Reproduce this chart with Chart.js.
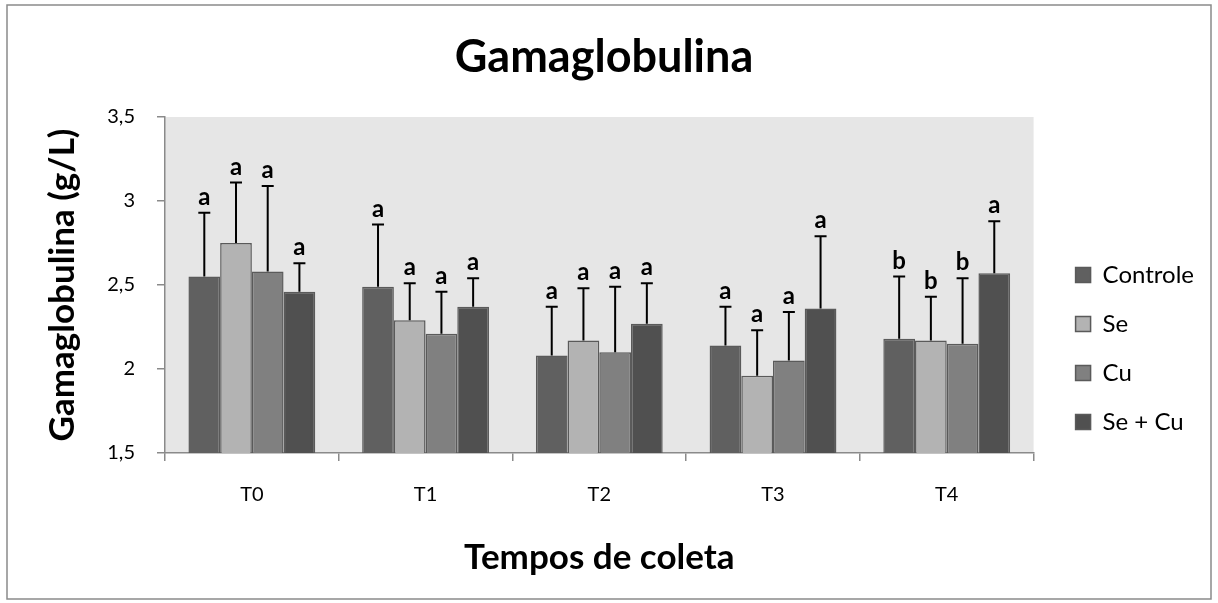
<!DOCTYPE html>
<html>
<head>
<meta charset="utf-8">
<script src="https://cdn.jsdelivr.net/npm/chart.js@4/dist/chart.umd.min.js"></script>
<style>
html,body{margin:0;padding:0;background:#fff;}
#wrap{width:1218px;height:603px;}
</style>
</head>
<body>
<div id="wrap"><canvas id="gamaChart" width="1218" height="603"></canvas></div>
<script>
const tempos = ['T0','T1','T2','T3','T4']
const yTicks = [1.5,2,2.5,3,3.5]

// means
const controle = [2.55,2.49,2.08,2.14,2.18]
const se = [2.75,2.29,2.17,1.96,2.17]
const cu = [2.58,2.21,2.10,2.05,2.15]
const seCu = [2.46,2.37,2.27,2.36,2.57]

// standard deviations (upper error bar only)
const controleSd = [0.38,0.37,0.29,0.23,0.37]
const seSd = [0.36,0.22,0.31,0.27,0.26]
const cuSd = [0.51,0.25,0.39,0.29,0.39]
const seCuSd = [0.17,0.17,0.24,0.43,0.31]

// letters from the statistical test
const controleLet = ['a','a','a','a','b']
const seLet = ['a','a','a','a','b']
const cuLet = ['a','a','a','a','b']
const seCuLet = ['a','a','a','a','a']

const FONT = 'Lato, "Open Sans", sans-serif'
const edge = '#5a5a5a'

// extra room between plot and legend, legend pushed down a bit
const LEGEND_EXTRA = 21
const LEGEND_SHIFT = 17
const LEGEND_DROP = 47

const frame = {
id:'frame',
beforeDraw(chart){
const {ctx,chartArea:a} = chart
ctx.save()
ctx.fillStyle = '#fff'
ctx.fillRect(0,0,chart.width,chart.height)
ctx.strokeStyle = '#8a8a8a'
ctx.lineWidth = 1.5
ctx.strokeRect(7,5,1204,594)
ctx.fillStyle = '#e6e6e6'
ctx.fillRect(a.left,a.top,a.right-a.left,a.bottom-a.top)
ctx.restore()
}
}

const legendGap = {
id:'legendGap',
beforeLayout(chart){
const lg = chart.legend
if(lg && !lg._gap){
const fit = lg.fit
lg.fit = function(){
fit.call(this)
this.width += LEGEND_EXTRA
}
lg._gap = true
}
},
afterLayout(chart){
const lg = chart.legend
lg.left += LEGEND_SHIFT
lg.top += LEGEND_DROP
lg.bottom += LEGEND_DROP
}
}

const errBars = {
id:'errBars',
afterDatasetsDraw(chart){
const {ctx} = chart
const y = chart.scales.y
ctx.save()
chart.data.datasets.forEach((ds,i)=>{
const meta = chart.getDatasetMeta(i)
meta.data.forEach((bar,j)=>{
const top = y.getPixelForValue(ds.data[j] + ds.sd[j])
ctx.strokeStyle = '#000'
ctx.lineWidth = 2
ctx.beginPath()
ctx.moveTo(bar.x,bar.y)
ctx.lineTo(bar.x,top)
ctx.moveTo(bar.x-6,top)
ctx.lineTo(bar.x+6,top)
ctx.stroke()
ctx.fillStyle = '#000'
ctx.font = 'bold 24px ' + FONT
ctx.textAlign = 'center'
ctx.textBaseline = 'alphabetic'
ctx.fillText(ds.letters[j],bar.x,top-8)
})
})
ctx.restore()
}
}

function serie(label,data,sd,letters,color){
return {
label:label,
data:data,
sd:sd,
letters:letters,
backgroundColor:color,
borderColor:edge,
borderWidth:1.5
}
}

new Chart(document.getElementById('gamaChart'),{
type:'bar',
data:{
labels:tempos,
datasets:[
serie('Controle',controle,controleSd,controleLet,'#606060'),
serie('Se',se,seSd,seLet,'#b3b3b3'),
serie('Cu',cu,cuSd,cuLet,'#808080'),
serie('Se + Cu',seCu,seCuSd,seCuLet,'#505050')
]
},
options:{
responsive:false,
animation:false,
layout:{padding:{left:0,right:10,top:0,bottom:0}},
datasets:{bar:{categoryPercentage:0.73,barPercentage:1}},
plugins:{
tooltip:{enabled:false},
title:{
display:true,
text:'Gamaglobulina',
color:'#000',
font:{family:FONT,size:45,weight:'bold'},
padding:{top:30,bottom:33}
},
legend:{
position:'right',
align:'center',
labels:{
color:'#000',
font:{family:FONT,size:24},
boxWidth:15,
boxHeight:15,
padding:25
}
}
},
scales:{
x:{
afterFit(s){s.height = 150},
grid:{display:true,drawOnChartArea:false,tickLength:8,color:'#8a8a8a',lineWidth:1.5},
border:{color:'#8a8a8a',width:1.5},
ticks:{color:'#000',font:{family:FONT,size:20},padding:22},
title:{
display:true,
text:'Tempos de coleta',
color:'#000',
font:{family:FONT,size:35,weight:'bold'},
padding:{top:0,bottom:24}
}
},
y:{
min:1.5,
max:3.5,
afterFit(s){s.width = 165},
afterBuildTicks(s){s.ticks = yTicks.map(v=>({value:v}))},
grid:{display:true,drawOnChartArea:false,tickLength:8,color:'#8a8a8a',lineWidth:1.5},
border:{color:'#8a8a8a',width:1.5},
ticks:{
color:'#000',
font:{family:FONT,size:20},
padding:22,
callback:v=>String(v).replace('.',',')
},
title:{
display:true,
text:'Gamaglobulina (g/L)',
color:'#000',
font:{family:FONT,size:35,weight:'bold'},
padding:{top:42,bottom:0}
}
}
}
},
plugins:[frame,legendGap,errBars]
})
</script>
</body>
</html>
